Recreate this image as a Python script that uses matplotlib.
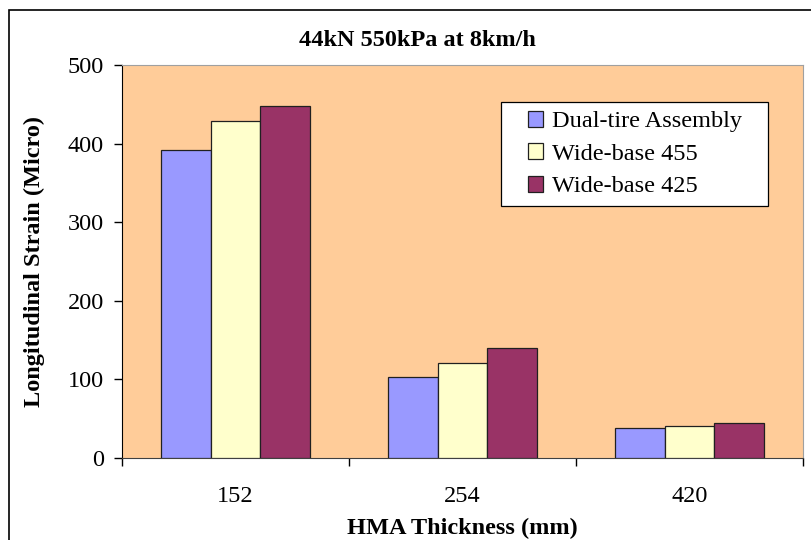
import matplotlib.pyplot as plt
import numpy as np
from matplotlib.patches import Rectangle

# HMA thickness categories and strains (micro)
thickness = ['152', '254', '420']
dual_tire = [392, 103, 38]
wide_455 = [429, 121, 41]
wide_425 = [448, 140, 44]

series = [('Dual-tire Assembly', dual_tire, '#9999FF'),
          ('Wide-base 455', wide_455, '#FFFFCC'),
          ('Wide-base 425', wide_425, '#993366')]

plt.rcParams['font.family'] = ['Liberation Serif', 'DejaVu Serif']
FS = 17.5

fig = plt.figure(figsize=(8.11, 5.40), dpi=100)
ax = fig.add_axes([122 / 811, 1 - 458 / 540, 681 / 811, 393 / 540])

# outer frame of the chart (cut off at right and bottom)
fig.patches.append(Rectangle((9 / 811, -0.1), 1.2, 1 - 10 / 540 + 0.1,
                             transform=fig.transFigure, fill=False,
                             edgecolor='black', linewidth=1.2))

x = np.arange(len(thickness))
w = 0.22
for i, (name, vals, col) in enumerate(series):
    ax.bar(x + (i - 1) * w, vals, w, color=col, edgecolor='#202020',
           linewidth=0.9, label=name, zorder=3)

ax.set_facecolor('#FFCC99')
ax.set_xlim(-0.5, 2.5)
ax.set_ylim(0, 500)
ax.set_yticks(range(0, 501, 100))
ax.set_xticks(x)
ax.set_xticklabels(thickness)
ax.set_xticks([-0.5, 0.5, 1.5, 2.5], minor=True)
ax.tick_params(axis='x', which='major', length=0, labelsize=FS, pad=20)
ax.tick_params(axis='x', which='minor', length=6, width=1, direction='out')
ax.tick_params(axis='y', length=6, width=1, direction='out', labelsize=FS, pad=7)

for s in ['top', 'right']:
    ax.spines[s].set_color('#A0A0A0')
ax.spines['left'].set_color('black')
ax.spines['bottom'].set_color('#404040')

ax.set_xlabel('HMA Thickness (mm)', fontsize=FS, fontweight='bold', labelpad=8)
ax.set_ylabel('Longitudinal Strain (Micro)', fontsize=FS, fontweight='bold', labelpad=16)
fig.text(417 / 811, 1 - 40 / 540, '44kN 550kPa at 8km/h',
         ha='center', va='center', fontsize=FS, fontweight='bold')

leg = ax.legend(loc='upper left', bbox_to_anchor=((507 - 122) / 681, (458 - 90) / 393),
                frameon=False, fontsize=FS,
                handlelength=0.65, handleheight=0.65, handletextpad=0.35,
                borderpad=0.35, labelspacing=0.45)
for h in leg.legend_handles:
    h.set_linewidth(0.9)

# white legend box, wider on the sides than on top and bottom
fig.canvas.draw()
bb = leg.get_window_extent().transformed(ax.transAxes.inverted())
padx = 18 / 681
ax.add_patch(Rectangle((bb.x0 - padx, bb.y0), bb.width + 2 * padx, bb.height,
                       transform=ax.transAxes, facecolor='white',
                       edgecolor='black', linewidth=0.9, zorder=4))

fig.savefig('out.png', dpi=100)
